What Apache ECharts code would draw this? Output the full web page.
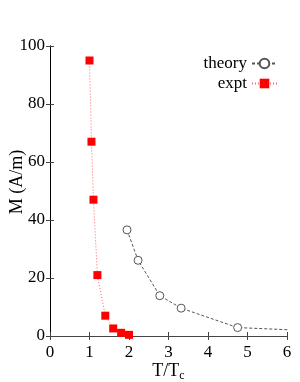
<!DOCTYPE html>
<html><head><meta charset="utf-8">
<script src="https://cdn.jsdelivr.net/npm/echarts@6/dist/echarts.min.js"></script>
<style>html,body{margin:0;padding:0;background:#fff}#c{width:300px;height:382px}</style>
</head><body><div id="c"></div>
<script>
var exptX = [1.0, 1.05, 1.1, 1.2, 1.4, 1.6, 1.8, 2.0];
var exptY = [95, 67, 47, 21, 7.0, 2.6, 1.1, 0.4];
var theoryX = [1.95, 2.23, 2.78, 3.32, 4.75, 7.0];
var theoryY = [36.6, 26.1, 13.9, 9.6, 2.9, 1.6];
var xTicks = [0, 1, 2, 3, 4, 5, 6];
var yTicks = [0, 20, 40, 60, 80, 100];

var font = 'Liberation Serif';
var axisCol = '#444';
function zip(a, b) { return a.map(function (v, i) { return [v, b[i]]; }); }
var theoryData = zip(theoryX, theoryY).map(function (p, i) {
  return i === theoryX.length - 1 ? { value: p, symbol: 'none' } : p;
});

var chart = echarts.init(document.getElementById('c'), null, { renderer: 'canvas' });
chart.setOption({
  animation: false,
  backgroundColor: '#fff',
  grid: { left: 50, right: 13, top: 46, bottom: 46, outerBoundsMode: 'none', containLabel: false },
  legend: {
    right: 17, top: 50, orient: 'vertical', align: 'right',
    itemWidth: 25, itemHeight: 12, itemGap: 3,
    textStyle: { fontFamily: font, fontSize: 17, color: '#000' },
    data: ['theory', 'expt']
  },
  xAxis: [{
    type: 'value', min: 0, max: 6, interval: 1,
    name: 'T/T{sub|c}', nameLocation: 'middle', nameGap: 24, nameMoveOverlap: false,
    nameTextStyle: { fontFamily: font, fontSize: 18, color: '#000', verticalAlign: 'top',
      rich: { sub: { fontFamily: font, fontSize: 12, verticalAlign: 'bottom', padding: [10, 0, 0, 0] } } },
    axisLine: { lineStyle: { color: axisCol, width: 1 } },
    axisTick: { inside: true, length: 4, lineStyle: { color: axisCol } },
    axisLabel: { fontFamily: font, fontSize: 17, color: '#000', margin: 8,
      formatter: function (v) { return xTicks.indexOf(v) >= 0 ? String(v) : ''; } },
    splitLine: { show: false }
  }, {
    type: 'value', min: 0, max: 6, interval: 1, position: 'top',
    axisLine: { show: true, lineStyle: { color: axisCol, width: 1 } },
    axisTick: { inside: true, length: 4, lineStyle: { color: axisCol } },
    axisLabel: { show: false }, splitLine: { show: false }
  }],
  yAxis: [{
    type: 'value', min: 0, max: 100, interval: 20,
    name: 'M (A/m)', nameLocation: 'middle', nameGap: 24, nameMoveOverlap: false,
    nameTextStyle: { fontFamily: font, fontSize: 18, color: '#000', padding: [0, 0, 0, 18] },
    axisLine: { show: true, lineStyle: { color: axisCol, width: 1 } },
    axisTick: { show: true, inside: true, length: 4, lineStyle: { color: axisCol } },
    axisLabel: { fontFamily: font, fontSize: 17, color: '#000', margin: 5,
      formatter: function (v) { return yTicks.indexOf(v) >= 0 ? String(v) : ''; } },
    splitLine: { show: false }
  }, {
    type: 'value', min: 0, max: 100, interval: 20, position: 'right',
    axisLine: { show: true, lineStyle: { color: '#000', width: 1 } },
    axisTick: { show: true, inside: true, length: 4, lineStyle: { color: axisCol } },
    axisLabel: { show: false }, splitLine: { show: false }
  }],
  series: [{
    name: 'theory', type: 'line', clip: true,
    data: theoryData,
    symbol: 'circle', symbolSize: 8,
    itemStyle: { color: '#fff', borderColor: '#555', borderWidth: 1 },
    lineStyle: { color: '#555', width: 1, type: [3, 2] },
    z: 3
  }, {
    name: 'expt', type: 'line', clip: true,
    data: zip(exptX, exptY),
    symbol: 'rect', symbolSize: 8,
    itemStyle: { color: '#f00' },
    lineStyle: { color: '#f66', width: 1, type: [1, 2] },
    z: 4
  }]
});
</script></body></html>
